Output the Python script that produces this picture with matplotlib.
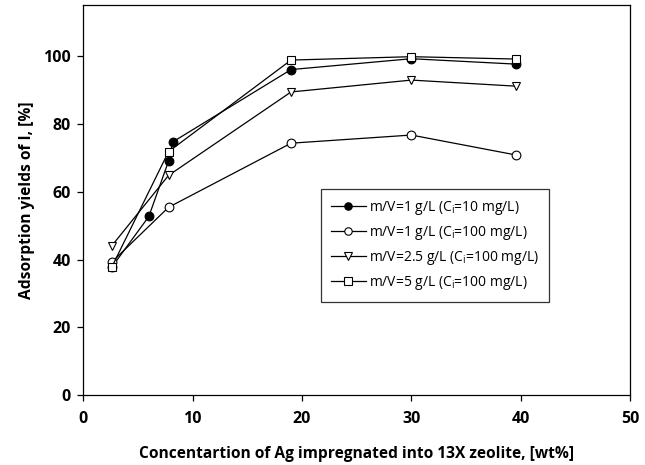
import matplotlib
matplotlib.use("Agg")
import matplotlib.pyplot as plt

plt.rcParams['font.family'] = ['Open Sans', 'DejaVu Sans']
plt.rcParams['mathtext.fontset'] = 'custom'
plt.rcParams['mathtext.rm'] = 'Open Sans'

# Data
x_a = [2.6, 6.0, 7.8, 8.2, 19.0, 30.0, 39.6]
y_a = [37.7, 52.7, 69.0, 74.7, 96.0, 99.2, 97.6]
x_b = [2.6, 7.8, 19.0, 30.0, 39.6]
y_b = [39.2, 55.4, 74.3, 76.7, 70.8]
x_c = [2.6, 7.8, 19.0, 30.0, 39.6]
y_c = [44.0, 64.8, 89.4, 92.9, 91.1]
x_d = [2.6, 7.8, 19.0, 30.0, 39.6]
y_d = [37.7, 71.8, 98.8, 99.8, 99.1]

labels = [r'm/V=1 g/L (C$_\mathregular{i}$=10 mg/L)',
          r'm/V=1 g/L (C$_\mathregular{i}$=100 mg/L)',
          r'm/V=2.5 g/L (C$_\mathregular{i}$=100 mg/L)',
          r'm/V=5 g/L (C$_\mathregular{i}$=100 mg/L)']
xticks = [0, 10, 20, 30, 40, 50]
yticks = [0, 20, 40, 60, 80, 100]

fig = plt.figure(figsize=(6.45, 4.65), dpi=100)
ax = fig.add_axes([0.129, 0.150, 0.848, 0.839])

kw = dict(color='black', lw=0.9, markersize=6.3, markeredgewidth=0.8, markeredgecolor='black')
ax.plot(x_a, y_a, marker='o', markerfacecolor='black', label=labels[0], zorder=3, **kw)
ax.plot(x_b, y_b, marker='o', markerfacecolor='white', label=labels[1], zorder=4, **kw)
ax.plot(x_c, y_c, marker='v', markerfacecolor='white', label=labels[2], zorder=5, **kw)
ax.plot(x_d, y_d, marker='s', markerfacecolor='white', label=labels[3], zorder=6, **kw)

ax.set_xlim(0, 50)
ax.set_ylim(0, 115)
ax.set_xticks(xticks)
ax.set_yticks(yticks)
ax.set_xticklabels([str(t) for t in xticks], fontweight='bold', fontsize=11.5)
ax.set_yticklabels([str(t) for t in yticks], fontweight='bold', fontsize=11.5)
ax.tick_params(axis='x', direction='out', length=4, width=0.9, pad=7, colors='black')
ax.tick_params(axis='y', direction='out', length=4, width=0.9, pad=5, colors='black')
for s in ax.spines.values():
    s.set_linewidth(0.9)

ax.set_xlabel('Concentartion of Ag impregnated into 13X zeolite, [wt%]', fontweight='bold', fontsize=11.2, labelpad=14)
ax.set_ylabel('Adsorption yields of I, [%]', fontweight='bold', fontsize=11.2, labelpad=6)

leg = ax.legend(loc='upper left', bbox_to_anchor=(0.435, 0.528), fontsize=10, frameon=True,
                fancybox=False, edgecolor='black', handlelength=2.5, handletextpad=0.25,
                labelspacing=0.5, borderpad=0.7, borderaxespad=0, markerscale=0.85)
leg.get_frame().set_linewidth(0.9)

fig.savefig('out.png', dpi=100)
